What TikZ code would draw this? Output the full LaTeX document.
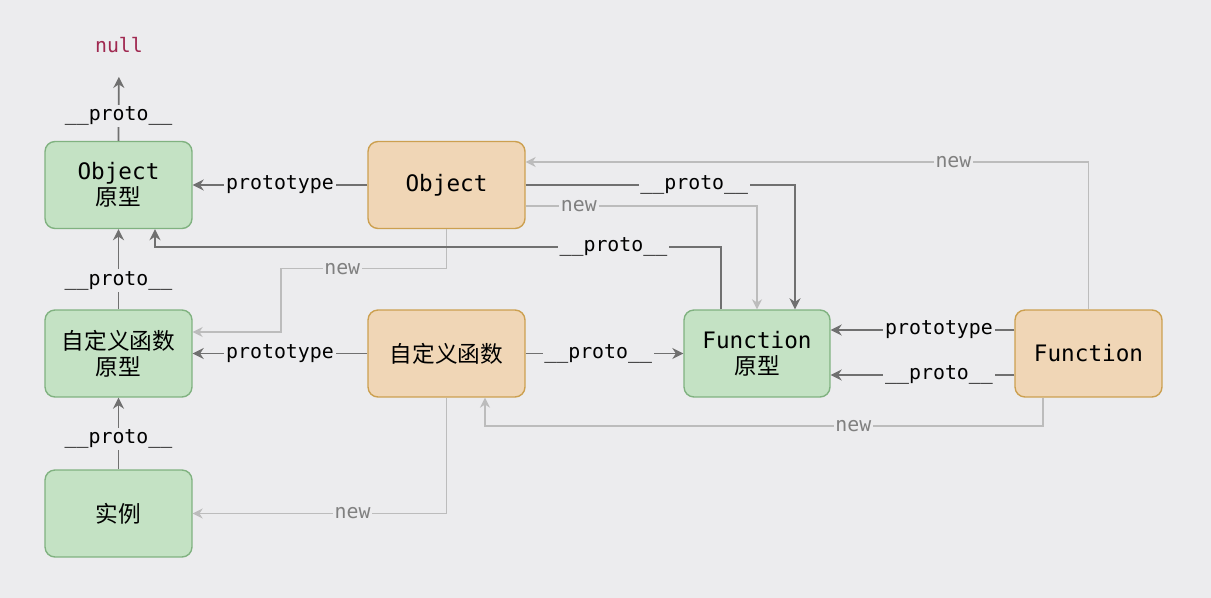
\documentclass[tikz,border=0pt]{standalone}
\usepackage{fontspec}
\setmainfont{DejaVu Sans Mono}
\newfontfamily\cjk{Noto Sans CJK SC}
\usetikzlibrary{arrows.meta,calc}
\definecolor{bgcol}{RGB}{236,236,238}
\definecolor{greenfill}{RGB}{196,226,196}
\definecolor{greenline}{RGB}{128,178,128}
\definecolor{orangefill}{RGB}{240,214,182}
\definecolor{orangeline}{RGB}{204,160,80}
\definecolor{darkline}{RGB}{112,112,112}
\definecolor{lightline}{RGB}{188,188,188}
\definecolor{nullred}{RGB}{160,40,80}
\tikzset{
  protobox/.style={draw=greenline,fill=greenfill,rounded corners=0.2cm,line width=0.8pt,minimum width=2.94cm,minimum height=1.74cm,align=center,font=\fontsize{12.9}{15}\selectfont},
  ctorbox/.style={protobox,draw=orangeline,fill=orangefill},
  darr/.style={draw=darkline,line width=1pt,-{Stealth[length=2.2mm,width=2.2mm]}},
  larr/.style={draw=lightline,line width=0.8pt,-{Stealth[length=2mm,width=2mm]}},
  lbl/.style={fill=bgcol,inner sep=1pt,text=black,font=\fontsize{11.3}{13}\selectfont},
  newlbl/.style={lbl,text=black!50},
}
\begin{document}
\begin{tikzpicture}[x=0.02cm,y=-0.02cm]
      \fill[bgcol] (0,0) rectangle (1211,598);
      \useasboundingbox (0,0) rectangle (1211,598);
      \node[text=nullred,font=\fontsize{11.3}{13}\selectfont] (null) at (119,45) {null};
      \node[protobox] (objproto) at (118.5,185) {Object\\{\cjk 原型}};
      \node[ctorbox,minimum width=3.14cm] (objctor) at (446.5,185) {Object};
      \node[protobox] (myproto) at (118.5,353.5) {{\cjk 自定义函数}\\{\cjk 原型}};
      \node[ctorbox,minimum width=3.14cm] (myctor) at (446.5,353.5) {\cjk 自定义函数};
      \node[protobox,minimum width=2.92cm] (fnproto) at (757,353.5) {Function\\{\cjk 原型}};
      \node[ctorbox] (fnctor) at (1088.5,353.5) {Function};
      \node[protobox] (inst) at (118.5,513.5) {\cjk 实例};
      \draw[larr] ($(objctor.east)+(0,21)$) -| node[newlbl,pos=.115] {new} (fnproto.north);
      \draw[larr] (fnctor.north) |- node[newlbl,pos=.62] {new} ($(objctor.east)+(0,-23)$);
      \draw[larr] (objctor.south) -- ++(0,39.5) -| node[newlbl,pos=.315] {new} (281,320) |- ($(myproto.east)+(0,-21.5)$);
      \draw[larr] ($(fnctor.south)+(-45.5,0)$) -- ++(0,28.5) -| node[newlbl,pos=.17] {new} ($(myctor.south)+(38.5,0)$);
      \draw[larr] (myctor.south) |- node[newlbl,pos=.685] {new} (inst.east);
      \draw[darr,shorten >=0.36cm] (objproto.north) -- node[lbl,pos=.3] {\_\_proto\_\_} (null.south);
      \draw[darr] (objctor.west) -- node[lbl] {prototype} (objproto.east);
      \draw[darr] (objctor.east) -| node[lbl,pos=.313] {\_\_proto\_\_} ($(fnproto.north)+(38,0)$);
      \draw[darr] ($(fnproto.north)+(-36,0)$) -- ++(0,-62.5) -| node[lbl,pos=.095] {\_\_proto\_\_} ($(objproto.south)+(36.5,0)$);
      \draw[darr] (myproto.north) -- node[lbl,pos=.36] {\_\_proto\_\_} (objproto.south);
      \draw[darr] (myctor.west) -- node[lbl] {prototype} (myproto.east);
      \draw[darr] (myctor.east) -- node[lbl,pos=.46] {\_\_proto\_\_} (fnproto.west);
      \draw[darr] ($(fnctor.west)+(0,-23.5)$) -- node[lbl,pos=.41] {prototype} ($(fnproto.east)+(0,-23.5)$);
      \draw[darr] ($(fnctor.west)+(0,21.5)$) -- node[lbl,pos=.41] {\_\_proto\_\_} ($(fnproto.east)+(0,21.5)$);
      \draw[darr] (inst.north) -- node[lbl,pos=.42] {\_\_proto\_\_} (myproto.south);
    \end{tikzpicture}
\end{document}
